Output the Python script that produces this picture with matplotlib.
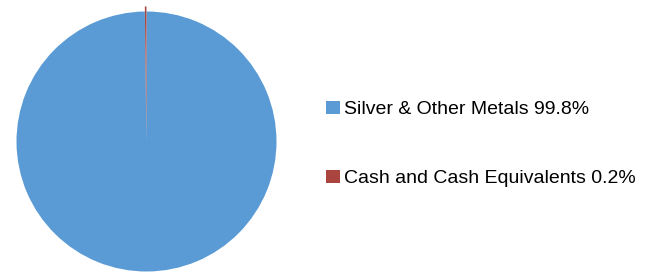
import matplotlib
matplotlib.use("Agg")
import matplotlib.pyplot as plt

labels = ["Silver & Other Metals 99.8%", "Cash and Cash Equivalents 0.2%"]
values = [99.8, 0.2]
colors = ["#5B9BD5", "#A9443F"]

plt.rcParams["font.family"] = ["Liberation Sans", "DejaVu Sans"]

fig = plt.figure(figsize=(6.51, 2.73), dpi=100)
ax = fig.add_axes([0, 0, 1, 1])

# pie in pixel coordinates, tiny cash slice pulled out a bit
wedges, _ = ax.pie(values, colors=colors, startangle=90, counterclock=False,
                   center=(146.5, 273 - 141.5), radius=130, explode=[0, 5],
                   frame=True)
ax.set_xlim(0, 651)
ax.set_ylim(0, 273)
ax.axis("off")

fig.legend(wedges, labels, loc="center left", bbox_to_anchor=(326 / 651, (273 - 144) / 273),
           frameon=False, fontsize=14, handlelength=0.7, handleheight=0.65,
           handletextpad=0.2, labelspacing=2.68, borderpad=0, borderaxespad=0)

fig.savefig("out.png", dpi=100)
